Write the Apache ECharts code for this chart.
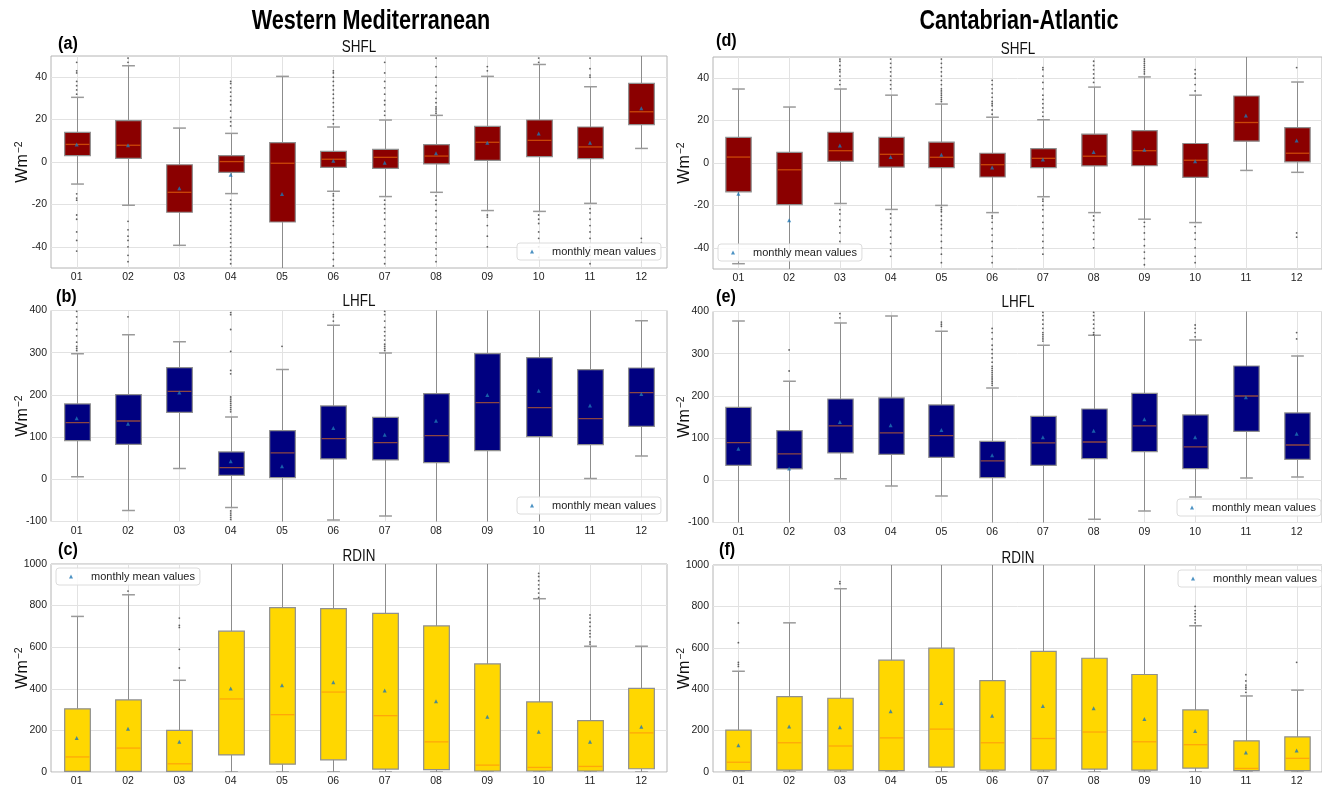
<!DOCTYPE html>
<html>
<head>
<meta charset="utf-8">
<title>Surface heat fluxes – monthly box plots</title>
<script src="https://cdn.jsdelivr.net/npm/echarts@6/dist/echarts.min.js"></script>
<style>
  html, body { margin: 0; padding: 0; background: #fff; }
  #chart { width: 1322px; height: 787px; }
</style>
</head>
<body>
<div id="chart"></div>
<script>
// Month labels on every x axis
const months = ['01', '02', '03', '04', '05', '06', '07', '08', '09', '10', '11', '12'];

// Box statistics per month: [lower whisker, Q1, median, Q3, upper whisker]

// Western Mediterranean – sensible heat flux (SHFL)
const wmShflBox = [
  [-10.4, 3.0, 8.3, 14.0, 30.5], [-20.4, 1.7, 7.9, 19.5, 45.4], [-39.3, -23.7, -14.3, -1.3, 16.0],
  [-14.9, -4.9, 0.2, 3.0, 13.5], [-58, -28.3, -0.6, 9.1, 40.4], [-13.8, -2.5, 1.3, 5.0, 16.5],
  [-16.3, -3.0, 2.2, 6.0, 19.8], [-14.3, -0.9, 2.8, 8.2, 22.0], [-22.9, 0.8, 9.3, 16.8, 40.4],
  [-23.3, 2.5, 10.2, 19.8, 46.0], [-19.5, 1.6, 7.1, 16.5, 35.5], [6.4, 17.6, 23.7, 37.1, 58]
];
const wmShflMean = [8.3, 7.9, -12.4, -6.0, -15.1, 0.6, -0.3, 4.1, 9.1, 13.5, 9.1, 25.4];
const wmShflOutliers = [
  [32, 34, 36, 38, 42, 43, 47, -15, -17, -18, -25, -27, -33, -37, -42],
  [47, 49, -28, -32, -35, -37, -40, -44, -47],
  [],
  [17, 19, 21, 24, 27, 29, 31, 33, 35, 37, 38, -18, -20, -22, -24, -26, -28, -30, -32, -34, -36, -38, -40, -42, -44, -46, -48],
  [],
  [18, 20, 22, 24, 26, 28, 30, 32, 34, 36, 38, 40, 42, 43, -15, -16, -18, -20, -22, -24, -26, -28, -30, -34, -38, -40, -43, -46, -49],
  [22, 24, 27, 29, 32, 35, 38, 42, 47, -18, -20, -22, -24, -27, -30, -33, -36, -39, -42, -45, -48],
  [23, 24, 25, 26, 28, 30, 33, 36, 40, 45, 49, -16, -18, -20, -23, -26, -29, -32, -35, -38, -41, -44, -47],
  [43, 45, -25, -26, -30, -35, -40],
  [47, 49, -25, -27, -29, -33, -36, -40, -45],
  [40, 41, 44, 49, -22, -24, -27, -30, -33, -36, -40, -44, -48],
  [-36, -38]
];

// Western Mediterranean – latent heat flux (LHFL)
const wmLhflBox = [
  [6.3, 91.6, 134.3, 178.5, 297.8], [-74.2, 82.9, 138.2, 200.6, 342.8], [25.3, 158.8, 208.5, 264.6, 326.2],
  [-67.1, 9.5, 27.6, 64.8, 147.7], [-130, 3.9, 62.4, 115.3, 259.9], [-96.4, 48.2, 96.4, 173.8, 364.9],
  [-86.9, 45.8, 86.9, 146.9, 299.4], [-130, 39.5, 103.5, 203.0, 430], [-130, 67.9, 181.7, 297.8, 430],
  [-130, 101.1, 169.8, 288.3, 430], [1.6, 82.1, 143.8, 259.9, 430], [55.3, 125.6, 205.4, 263.8, 376.0]
];
const wmLhflMean = [144.5, 131.9, 205.4, 42.7, 30.8, 121.6, 105.8, 139.0, 199.8, 210.1, 174.6, 202.2];
const wmLhflOutliers = [
  [305, 310, 315, 325, 340, 355, 370, 385, 398],
  [385],
  [],
  [160, 165, 170, 175, 180, 185, 190, 195, 250, 258, 303, 355, 390, 395, -75, -80, -85, -90, -95],
  [315],
  [375, 385, 390],
  [305, 310, 315, 320, 330, 340, 350, 360, 375, 390, 398],
  [], [], [], [], []
];

// Western Mediterranean – incoming radiation (RDIN)
const wmRdinBox = [
  [0, 3, 72.4, 303.9, 748], [0, 3, 115, 346.5, 852], [0, 3, 39.4, 200, 440.9],
  [0, 81.9, 351.2, 677.2, 1080], [0, 37.8, 275.6, 790.6, 1080], [0, 58.3, 384.3, 785.8, 1080],
  [0, 14.2, 270.9, 762.2, 1080], [0, 11.0, 144.9, 702.4, 1080], [0, 4.7, 33.1, 519.7, 1080],
  [0, 4.7, 22.0, 337.0, 833.1], [0, 4.7, 26.8, 247.2, 604.7], [0, 15.7, 188, 401.6, 604.7]
];
const wmRdinMean = [163.8, 207.9, 144.9, 401.6, 417.3, 431.5, 392.1, 340.2, 266.1, 193.7, 144.9, 218];
const wmRdinOutliers = [
  [], [870], [500, 590, 695, 705, 740], [], [], [], [], [], [],
  [840, 860, 880, 900, 920, 940, 955],
  [615, 625, 650, 665, 680, 700, 720, 740, 755],
  []
];

// Cantabrian-Atlantic – sensible heat flux (SHFL)
const caShflBox = [
  [-47.5, -13.6, 2.8, 12.1, 34.9], [-58, -19.6, -3.2, 5.0, 26.4], [-19.1, 0.8, 5.8, 14.5, 34.9],
  [-21.9, -1.9, 4.1, 12.1, 32.0], [-20.0, -2.2, 2.7, 9.8, 27.8], [-23.4, -6.6, -0.8, 4.6, 21.6],
  [-15.9, -2.2, 2.2, 6.8, 20.4], [-23.4, -1.4, 3.2, 13.6, 35.8], [-26.5, -1.3, 5.8, 15.3, 40.6],
  [-28.1, -6.8, 1.3, 9.2, 32.0], [-3.5, 10.3, 19.1, 31.6, 58], [-4.4, 0.5, 4.6, 16.7, 38.2]
];
const caShflMean = [-14.5, -27.0, 8.2, 2.8, 3.9, -2.1, 1.6, 5.2, 6.3, 0.8, 22.4, 10.6];
const caShflOutliers = [
  [], [],
  [37, 39, 41, 43, 44, 46, 48, 49, -22, -24, -27, -30, -33, -37],
  [35, 37, 39, 41, 43, 45, 47, 49, -24, -26, -29, -32, -35, -38, -41, -44],
  [29, 30, 31, 32, 33, 34, 35, 37, 39, 41, 43, 45, 47, 49, -21, -22, -23, -25, -27, -29, -31, -34, -37, -40, -43, -47],
  [23, 25, 27, 28, 29, 31, 33, 35, 37, 39, -25, -26, -28, -31, -34, -37, -40, -44, -47],
  [22, 24, 26, 28, 30, 32, 35, 38, 41, 44, 45, -17, -18, -20, -22, -25, -28, -31, -34, -37, -40, -43],
  [38, 40, 42, 44, 46, 48, -25, -27, -30, -33, -36, -40],
  [42, 43, 44, 45, 46, 47, 48, 49, -28, -30, -33, -36, -39, -42, -45, -48],
  [34, 37, 40, 42, 44, -30, -33, -36, -40, -44, -47],
  [],
  [45, -33, -35]
];

// Cantabrian-Atlantic – latent heat flux (LHFL)
const caLhflBox = [
  [-130, 35.5, 89.3, 173.0, 377.6], [-130, 26.9, 62.4, 117.7, 235], [3.9, 64.8, 128.8, 192.7, 372.8],
  [-13.4, 61.6, 112.2, 195.1, 389.4], [-37.1, 54.5, 105.8, 178.5, 353.1], [-130, 6.3, 45.8, 92.4, 218.8],
  [-130, 35.5, 88.5, 151.7, 319.9], [-92.4, 51.3, 90.8, 169.0, 343.6], [-72.7, 67.9, 128.8, 206.2, 430],
  [-39.5, 27.6, 79.0, 154.8, 332.5], [5.5, 116.1, 199.8, 270.9, 430], [7.9, 49.8, 83.7, 159.6, 294.6]
];
const caLhflMean = [75.0, 28.0, 138.2, 130.3, 119.3, 59.2, 101.9, 117.7, 144.5, 101.9, 196.7, 110.6];
const caLhflOutliers = [
  [],
  [259, 309],
  [385, 395],
  [],
  [365, 370, 375],
  [225, 230, 235, 240, 245, 250, 255, 260, 265, 270, 280, 290, 300, 310, 320, 335, 350, 360],
  [330, 335, 340, 345, 350, 360, 370, 380, 390, 398],
  [345, 350, 360, 370, 380, 390, 398],
  [],
  [340, 350, 360, 368],
  [],
  [335, 350]
];

// Cantabrian-Atlantic – incoming radiation (RDIN)
const caRdinBox = [
  [0, 6.3, 47.1, 202.5, 486.7], [0, 9.4, 141.3, 364.2, 720.6], [0, 9.4, 125.6, 356.4, 885.4],
  [0, 6.3, 164.8, 540.0, 1080], [0, 23.5, 207.2, 598.1, 1080], [0, 9.4, 141.3, 441.1, 1080],
  [0, 9.4, 161.7, 582.4, 1080], [0, 14.1, 193.1, 549.5, 1080], [0, 9.4, 146.0, 470.9, 1080],
  [0, 18.8, 131.9, 299.8, 706.4], [0, 6.3, 17.3, 150.7, 367.3], [0, 6.3, 65.9, 169.5, 395.6]
];
const caRdinMean = [128.7, 219.8, 216.6, 293.6, 332.8, 271.6, 318.7, 307.7, 255.9, 197.8, 94.2, 103.6];
const caRdinOutliers = [
  [510, 520, 530, 625, 720], [], [910, 920], [], [], [], [], [], [],
  [720, 735, 750, 765, 780, 800],
  [385, 400, 410, 420, 440, 470],
  [530]
];

// ---------------------------------------------------------------------------
const FONT = '"Liberation Sans", Arial, sans-serif';
const MEAN_NAME = 'monthly mean values';
const SHFL_AXIS = { min: -50, max: 50, step: 20 };
const LHFL_AXIS = { min: -100, max: 400, step: 100 };
const RDIN_AXIS = { min: 0, max: 1000, step: 200 };

const panels = [
  { grid: { left: 51, top: 56, width: 616, height: 212 }, box: wmShflBox, mean: wmShflMean, out: wmShflOutliers,
    fill: '#8b0000', axis: SHFL_AXIS, legend: { left: 517, top: 243 },
    tag: '(a)', tagPos: [58, 44], sub: 'SHFL', subY: 48 },
  { grid: { left: 51, top: 310.5, width: 616, height: 211 }, box: wmLhflBox, mean: wmLhflMean, out: wmLhflOutliers,
    fill: '#000080', axis: LHFL_AXIS, legend: { left: 517, top: 497 },
    tag: '(b)', tagPos: [56, 297], sub: 'LHFL', subY: 302 },
  { grid: { left: 51, top: 564, width: 616, height: 212 }, box: wmRdinBox, mean: wmRdinMean, out: wmRdinOutliers,
    fill: '#ffd700', axis: RDIN_AXIS, legend: { left: 56, top: 568 },
    tag: '(c)', tagPos: [58, 550], sub: 'RDIN', subY: 557 },
  { grid: { left: 713, top: 57, width: 614, height: 212 }, box: caShflBox, mean: caShflMean, out: caShflOutliers,
    fill: '#8b0000', axis: SHFL_AXIS, legend: { left: 718, top: 244 },
    tag: '(d)', tagPos: [716, 41], sub: 'SHFL', subY: 50 },
  { grid: { left: 713, top: 311.5, width: 614, height: 211 }, box: caLhflBox, mean: caLhflMean, out: caLhflOutliers,
    fill: '#000080', axis: LHFL_AXIS, legend: { left: 1177, top: 499 },
    tag: '(e)', tagPos: [716, 297], sub: 'LHFL', subY: 303 },
  { grid: { left: 713, top: 565, width: 614, height: 212 }, box: caRdinBox, mean: caRdinMean, out: caRdinOutliers,
    fill: '#ffd700', axis: RDIN_AXIS, legend: { left: 1178, top: 570 },
    tag: '(f)', tagPos: [719, 550], sub: 'RDIN', subY: 559 }
];

// Draws one month: centre grid line, whiskers, caps, box and median
function boxRenderer(fill) {
  return function (params, api) {
    const i = api.value(0);
    const lo = api.coord([i, api.value(1)]);
    const q1 = api.coord([i, api.value(2)]);
    const md = api.coord([i, api.value(3)]);
    const q3 = api.coord([i, api.value(4)]);
    const hi = api.coord([i, api.value(5)]);
    const band = api.size([1, 0])[0];
    const half = band * 0.25;
    const cap = band * 0.125;
    const cx = Math.round(md[0]) + 0.5;
    const cs = params.coordSys;
    const whisker = { stroke: '#8c8c8c', lineWidth: 1 };
    const capStyle = { stroke: '#9a9a9a', lineWidth: 1.5 };
    return {
      type: 'group',
      children: [
        { type: 'line', shape: { x1: cx, y1: cs.y, x2: cx, y2: cs.y + cs.height }, style: { stroke: '#e2e2e2', lineWidth: 1 } },
        { type: 'line', shape: { x1: cx, y1: hi[1], x2: cx, y2: q3[1] }, style: whisker },
        { type: 'line', shape: { x1: cx, y1: q1[1], x2: cx, y2: lo[1] }, style: whisker },
        { type: 'line', shape: { x1: cx - cap, y1: hi[1], x2: cx + cap, y2: hi[1] }, style: capStyle },
        { type: 'line', shape: { x1: cx - cap, y1: lo[1], x2: cx + cap, y2: lo[1] }, style: capStyle },
        { type: 'rect', shape: { x: cx - half, y: q3[1], width: half * 2, height: q1[1] - q3[1] },
          style: { fill: fill, stroke: '#8f8f8f', lineWidth: 1.2 } },
        { type: 'line', shape: { x1: cx - half + 1, y1: md[1], x2: cx + half - 1, y2: md[1] },
          style: { stroke: 'rgba(255,127,14,0.55)', lineWidth: 1.3 } }
      ]
    };
  };
}

const grids = [], xAxes = [], yAxes = [], series = [], legends = [], graphics = [];

panels.forEach(function (p, k) {
  grids.push(Object.assign({ show: true, borderColor: '#b4b4b4', borderWidth: 1, backgroundColor: '#fff' }, p.grid));
  xAxes.push({
    type: 'category', gridIndex: k, data: months, boundaryGap: true,
    axisLine: { show: false }, axisTick: { show: false }, splitLine: { show: false },
    axisLabel: { color: '#222', fontSize: 10.5, fontFamily: FONT, margin: 4 }
  });
  const ax = p.axis;
  const minor = ax.step / 2;
  yAxes.push({
    type: 'value', gridIndex: k, min: ax.min, max: ax.max, interval: minor,
    name: 'Wm{s|−2}', nameLocation: 'middle', nameRotate: 90, nameGap: 20, nameMoveOverlap: false,
    nameTextStyle: { fontSize: 16, color: '#111', fontFamily: FONT,
      rich: { s: { fontSize: 10.5, fontFamily: FONT, color: '#111', verticalAlign: 'top', padding: [0, 0, 6, 1] } } },
    axisLine: { show: false }, axisTick: { show: false },
    splitLine: { show: true, lineStyle: { color: ax.min % ax.step === 0 ? ['#e2e2e2', 'transparent'] : ['transparent', '#e2e2e2'], width: 1 } },
    axisLabel: { color: '#222', fontSize: 10.5, fontFamily: FONT, margin: 4,
      formatter: function (v) { return v % ax.step === 0 ? String(v) : ''; } }
  });

  series.push({
    type: 'custom', xAxisIndex: k, yAxisIndex: k, clip: true, z: 2,
    renderItem: boxRenderer(p.fill),
    encode: { x: 0, y: [1, 2, 3, 4, 5] },
    data: p.box.map(function (b, i) { return [i].concat(b); })
  });

  const fliers = [];
  p.out.forEach(function (vals, i) { vals.forEach(function (v) { fliers.push([i, v]); }); });
  series.push({
    type: 'scatter', xAxisIndex: k, yAxisIndex: k, z: 3, silent: true,
    symbol: 'circle', symbolSize: 1.8, itemStyle: { color: '#3a3a3a' },
    data: fliers
  });

  series.push({
    type: 'scatter', name: MEAN_NAME, xAxisIndex: k, yAxisIndex: k, z: 4,
    symbol: 'triangle', symbolSize: 4, itemStyle: { color: '#1f77b4' },
    data: p.mean.map(function (m, i) { return [i, m]; })
  });

  legends.push({
    data: [{ name: MEAN_NAME, icon: 'triangle' }], left: p.legend.left, top: p.legend.top,
    selectedMode: false, backgroundColor: 'rgba(255,255,255,0.85)', borderColor: '#dcdcdc', borderWidth: 1, borderRadius: 3,
    padding: [3, 5, 3, 13], itemWidth: 4, itemHeight: 4, itemGap: 0,
    textStyle: { fontSize: 11, color: '#222', fontFamily: FONT, padding: [0, 0, 0, 13] }
  });

  graphics.push({ type: 'text', x: p.tagPos[0], y: p.tagPos[1], scaleX: 0.9,
    style: { text: p.tag, font: 'bold 18px ' + FONT, fill: '#000', textVerticalAlign: 'middle' } });
  graphics.push({ type: 'text', x: p.grid.left + p.grid.width / 2 - (k >= 3 ? 2 : 0), y: p.subY, scaleX: 0.84,
    style: { text: p.sub, font: '16px ' + FONT, fill: '#111', textAlign: 'center', textVerticalAlign: 'middle' } });
});

graphics.push({ type: 'text', x: 371, y: 22, scaleX: 0.8,
  style: { text: 'Western Mediterranean', font: 'bold 27px ' + FONT, fill: '#000', textAlign: 'center', textVerticalAlign: 'middle' } });
graphics.push({ type: 'text', x: 1019, y: 22, scaleX: 0.8,
  style: { text: 'Cantabrian-Atlantic', font: 'bold 27px ' + FONT, fill: '#000', textAlign: 'center', textVerticalAlign: 'middle' } });

const chart = echarts.init(document.getElementById('chart'), null, { renderer: 'canvas' });
chart.setOption({
  animation: false,
  backgroundColor: '#fff',
  grid: grids,
  xAxis: xAxes,
  yAxis: yAxes,
  legend: legends,
  series: series,
  graphic: graphics
});
</script>
</body>
</html>
